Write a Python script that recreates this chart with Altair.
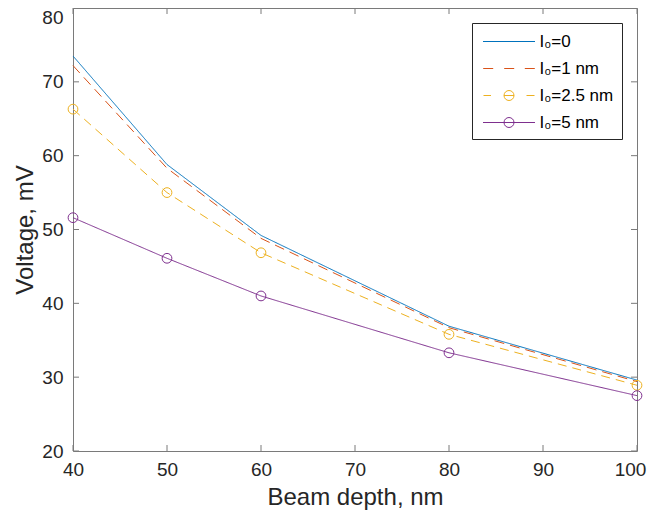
import altair as alt
import pandas as pd

# ---- data ----
depth = [40, 50, 60, 80, 100]
series_names = ["I₀=0", "I₀=1 nm", "I₀=2.5 nm", "I₀=5 nm"]
v_i0_0 = [73.5, 58.8, 49.2, 36.9, 29.6]
v_i0_1 = [72.2, 58.3, 48.8, 36.7, 29.4]
v_i0_25 = [66.3, 55.0, 46.85, 35.8, 28.9]
v_i0_5 = [51.6, 46.1, 41.0, 33.3, 27.5]
has_marker = [False, False, True, True]
x_ticks = [40, 50, 60, 70, 80, 90, 100]
y_ticks = [20, 30, 40, 50, 60, 70, 80]

# ---- styling ----
colors = ["#0072BD", "#D95319", "#EDB120", "#7E2F8E"]
dashes = [[1, 0], [10, 6], [9, 6], [1, 0]]
CIRCLE = "M0.5,0A0.5,0.5,0,1,1,-0.5,0A0.5,0.5,0,1,1,0.5,0"
legend_paths = [
    "M-2.6,0L2.6,0",
    "M-2.58,0L-1.58,0M-0.48,0L0.52,0M1.58,0L2.58,0",
    "M-2.55,0L-1.8,0M-0.5,0L0.5,0" + CIRCLE + "M1.75,0L2.55,0",
    "M-2.6,0L2.6,0" + CIRCLE,
]
FONT = "Liberation Sans"
TXT = "#262626"
BOX = "#7a7a7a"
W, H = 564, 443
TL = 6

rows = []
for name, vals in zip(series_names, [v_i0_0, v_i0_1, v_i0_25, v_i0_5]):
    for d, v in zip(depth, vals):
        rows.append({"depth": d, "v": v, "series": name})
df = pd.DataFrame(rows)
marker_series = [n for n, m in zip(series_names, has_marker) if m]

xs = alt.Scale(domain=[40, 100], nice=False, zero=False)
ys = alt.Scale(domain=[20, 80], nice=False, zero=False)
cs = alt.Scale(domain=series_names, range=colors)
ds = alt.Scale(domain=series_names, range=dashes)
ss = alt.Scale(domain=series_names, range=legend_paths)

x_enc = alt.X("depth:Q", scale=xs, title="Beam depth, nm",
              axis=alt.Axis(values=x_ticks, ticks=False, domain=False, grid=False,
                            labelPadding=9, titlePadding=6, labelFlush=False,
                            labelOffset={"condition": {"test": "datum.value == 100", "value": -7},
                                         "value": 0}))
y_enc = alt.Y("v:Q", scale=ys, title="Voltage, mV",
              axis=alt.Axis(values=y_ticks, ticks=False, domain=False, grid=False,
                            labelPadding=10, titlePadding=4, labelFlush=False,
                            labelBaseline={"condition": {"test": "datum.value == 80", "value": "top"},
                                           "value": "middle"}))

base = alt.Chart(df)

lines = base.mark_line(strokeWidth=1).encode(
    x=x_enc, y=y_enc,
    color=alt.Color("series:N", scale=cs, legend=None),
    strokeDash=alt.StrokeDash("series:N", scale=ds, legend=None),
    order="depth:Q",
)

circles = base.transform_filter(
    alt.FieldOneOfPredicate(field="series", oneOf=marker_series)
).mark_point(shape="circle", size=95, filled=False, strokeWidth=1, opacity=1).encode(
    x=alt.X("depth:Q", scale=xs, axis=None),
    y=alt.Y("v:Q", scale=ys, axis=None),
    color=alt.Color("series:N", scale=cs, legend=None),
)

leg = alt.Legend(title=None)
legend_layer = base.transform_filter("datum.depth < 0").mark_point(
    filled=False, strokeWidth=1, opacity=1
).encode(
    x=alt.X("depth:Q", scale=xs, axis=None),
    y=alt.Y("v:Q", scale=ys, axis=None),
    color=alt.Color("series:N", scale=cs, legend=leg),
    shape=alt.Shape("series:N", scale=ss, legend=leg),
)

xt = alt.Chart(pd.DataFrame({"t": x_ticks}))
yt = alt.Chart(pd.DataFrame({"t": y_ticks}))
tick_bottom = xt.mark_rule(color=BOX, strokeWidth=1).encode(
    x=alt.X("t:Q", scale=xs, axis=None), y=alt.value(H), y2=alt.value(H - TL))
tick_top = xt.mark_rule(color=BOX, strokeWidth=1).encode(
    x=alt.X("t:Q", scale=xs, axis=None), y=alt.value(0), y2=alt.value(TL))
tick_left = yt.mark_rule(color=BOX, strokeWidth=1).encode(
    y=alt.Y("t:Q", scale=ys, axis=None), x=alt.value(0), x2=alt.value(TL))
tick_right = yt.mark_rule(color=BOX, strokeWidth=1).encode(
    y=alt.Y("t:Q", scale=ys, axis=None), x=alt.value(W), x2=alt.value(W - TL))

chart = alt.layer(
    tick_bottom, tick_top, tick_left, tick_right, lines, circles, legend_layer
).resolve_axis(
    x="independent", y="independent"
).resolve_legend(
    color="independent", shape="independent", strokeDash="independent"
).properties(
    width=W, height=H,
    autosize=alt.AutoSizeParams(type="none"),
    padding={"left": 65, "top": 0, "right": 10, "bottom": 62},
    background="white",
).configure_view(
    stroke=BOX, strokeWidth=1
).configure_axis(
    labelFont=FONT, titleFont=FONT, labelFontSize=19, titleFontSize=24,
    labelColor=TXT, titleColor=TXT, titleFontWeight="normal",
).configure_legend(
    orient="none", legendX=399, legendY=15, padding=8,
    strokeColor="#262626", fillColor="white",
    symbolSize=400, symbolOffset=18.5, labelOffset=20, symbolStrokeWidth=1,
    labelFont=FONT, labelFontSize=17, labelColor="#000000", rowPadding=8,
)

chart.save("out.html", embed_options={"renderer": "svg", "actions": False})
